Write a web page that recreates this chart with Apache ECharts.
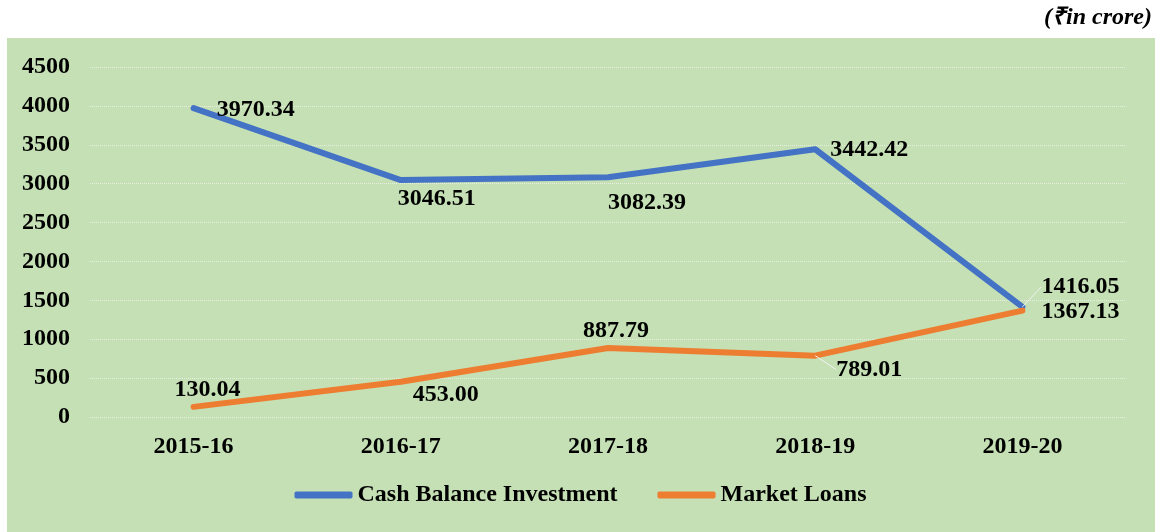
<!DOCTYPE html>
<html>
<head>
<meta charset="utf-8">
<script src="https://cdn.jsdelivr.net/npm/echarts@6/dist/echarts.min.js"></script>
<style>
  html, body { margin: 0; padding: 0; background: #fff; }
  #chart { width: 1161px; height: 532px; }
</style>
</head>
<body>
<div id="chart"></div>
<script>
// values
const years = ['2015-16', '2016-17', '2017-18', '2018-19', '2019-20']
const cashBalance = [3970.34, 3046.51, 3082.39, 3442.42, 1416.05]
const marketLoans = [130.04, 453.00, 887.79, 789.01, 1367.13]

const serif = '"Liberation Serif", "Times New Roman", serif'

// label side and nudges for each point, same order as the arrays above
const cashPos = ['right', 'bottom', 'bottom', 'right', 'right']
const cashDist = [23, 5, 5, 15, 19]
const cashShift = [[0, 2], [36, 2], [39, 8], [0, 1], [0, -20]]
const loanPos = ['top', 'right', 'top', 'right', 'right']
const loanDist = [5, 12, 5, 21, 19]
const loanShift = [[14, 0], [0, 13], [8, 0], [0, 14], [0, 1]]

const labelStyle = {
  show: true,
  fontFamily: serif,
  fontWeight: 'bold',
  fontSize: 24,
  color: '#000',
  formatter: p => p.value.toFixed(2),
}

const leader = { show: true, smooth: false, lineStyle: { color: '#f2f2f2', width: 1 } }

function points(values, pos, dist, leaderAt) {
  return values.map((v, i) => ({
    value: v,
    label: { position: pos[i], distance: dist[i] },
    labelLine: i === leaderAt ? leader : { show: false },
  }))
}

const chart = echarts.init(document.getElementById('chart'))

chart.setOption({
  animation: false,
  graphic: [
    {
      type: 'rect',
      z: -10,
      shape: { x: 7, y: 38, width: 1148, height: 494 },
      style: { fill: '#c5e0b4' },
    },
    {
      type: 'text',
      right: 9,
      top: 6,
      style: {
        text: '(₹in crore)',
        font: 'italic bold 24px ' + serif,
        fill: '#000',
      },
    },
  ],
  grid: { left: 90, right: 35, top: 67, bottom: 115 },
  legend: {
    bottom: 20,
    left: 'center',
    itemWidth: 58,
    itemHeight: 7,
    itemGap: 40,
    icon: 'roundRect',
    textStyle: { fontFamily: serif, fontWeight: 'bold', fontSize: 24, color: '#000' },
    data: ['Cash Balance Investment', 'Market Loans'],
  },
  xAxis: {
    type: 'category',
    data: years,
    axisLine: { show: false },
    axisTick: { show: false },
    axisLabel: { fontFamily: serif, fontWeight: 'bold', fontSize: 24, color: '#000', margin: 18 },
  },
  yAxis: {
    type: 'value',
    min: 0,
    max: 4500,
    interval: 500,
    axisLabel: {
      fontFamily: serif, fontWeight: 'bold', fontSize: 24, color: '#000', margin: 20,
      formatter: v => String(v),
    },
    splitLine: { lineStyle: { color: '#e6efe0', type: 'dotted', width: 1 } },
  },
  series: [
    {
      name: 'Cash Balance Investment',
      type: 'line',
      symbol: 'circle',
      symbolSize: 0.1,
      color: '#4472c4',
      lineStyle: { width: 6, cap: 'round', join: 'round' },
      data: points(cashBalance, cashPos, cashDist, 4),
      label: labelStyle,
      labelLine: { show: false },
      labelLayout: p => ({ dx: cashShift[p.dataIndex][0], dy: cashShift[p.dataIndex][1] }),
    },
    {
      name: 'Market Loans',
      type: 'line',
      symbol: 'circle',
      symbolSize: 0.1,
      color: '#ed7d31',
      lineStyle: { width: 6, cap: 'round', join: 'round' },
      data: points(marketLoans, loanPos, loanDist, 3),
      label: labelStyle,
      labelLine: { show: false },
      labelLayout: p => ({ dx: loanShift[p.dataIndex][0], dy: loanShift[p.dataIndex][1] }),
    },
  ],
})
</script>
</body>
</html>
